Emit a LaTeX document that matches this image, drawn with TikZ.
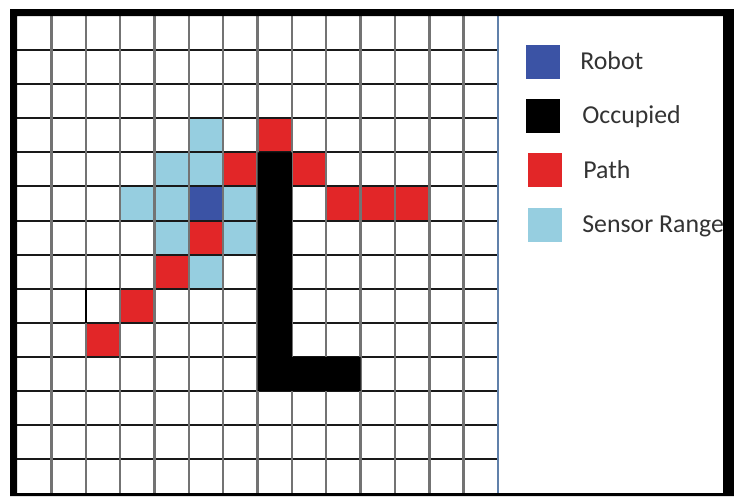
\documentclass[tikz,border=0pt]{standalone}
\usepackage{fontspec}
\setmainfont{Carlito}
\usetikzlibrary{positioning}
\definecolor{robotblue}{RGB}{59,83,165}
\definecolor{pathred}{RGB}{226,38,40}
\definecolor{sensorblue}{RGB}{150,206,224}
\definecolor{edgeblue}{RGB}{96,128,170}
\tikzset{
  robotcell/.style={fill=robotblue},
  pathcell/.style={fill=pathred},
  sensorcell/.style={fill=sensorblue},
  occcell/.style={fill=black},
  rowline/.style={line width=2pt, black!90},
  colline/.style={line width=2.4pt, black!55},
  key/.style={minimum width=34pt, minimum height=34pt, inner sep=0pt},
  keytext/.style={inner sep=0pt, text height=16pt, text depth=0pt, font=\fontsize{25.8}{30}\selectfont, text=black!80}
}

\begin{document}
\begin{tikzpicture}[x=1pt, y=-1pt]
  \useasboundingbox (0,0) rectangle (734,496);
  \fill[white] (0,0) rectangle (734,496);

  % occupancy grid, 14 x 14 cells
  \begin{scope}[shift={(17,16)}, x=34.36pt, y=-34.09pt]
    \foreach \c/\r in {5/3,4/4,5/4,3/5,4/5,6/5,4/6,6/6,5/7}
      \fill[sensorcell] (\c,\r) rectangle +(1,1);
    \foreach \c/\r in {7/3,6/4,8/4,9/5,10/5,11/5,5/6,4/7,3/8,2/9}
      \fill[pathcell] (\c,\r) rectangle +(1,1);
    \fill[robotcell] (5,5) rectangle +(1,1);
    \foreach \r in {1,...,13}
      \draw[rowline] (0,\r) -- (14,\r);
    \foreach \c in {1,...,13}
      \draw[colline] (\c,0) -- (\c,14);
    \draw[line width=2.4pt, black] (2,9) -- (2,8) -- (3,8);
    \fill[occcell] (7,4) -- (8,4) -- (8,10) -- (10,10) -- (10,11) -- (7,11) -- cycle;
    \draw[line width=2.4pt, edgeblue] (14,0) -- (14,14);
  \end{scope}

  % legend
  \node[key, fill=robotblue] (keyrobot) at (543,61.5) {};
  \node[key, fill=black, below=20pt of keyrobot] (keyocc) {};
  \node[key, fill=pathred, below=20pt of keyocc, xshift=2pt] (keypath) {};
  \node[key, fill=sensorblue, below=20pt of keypath] (keysensor) {};
  \node[keytext, right=20pt of keyrobot] (txtrobot) {Robot};
  \node[keytext, right=22pt of keyocc] (txtocc) {Occupied};
  \node[keytext, right=21pt of keypath] (txtpath) {Path};
  \node[keytext, right=20pt of keysensor] (txtsensor) {Sensor Range};

  % outer frame
  \fill[black, even odd rule] (10,9) rectangle (734,496) (17,16) rectangle (723,493);
\end{tikzpicture}
\end{document}
